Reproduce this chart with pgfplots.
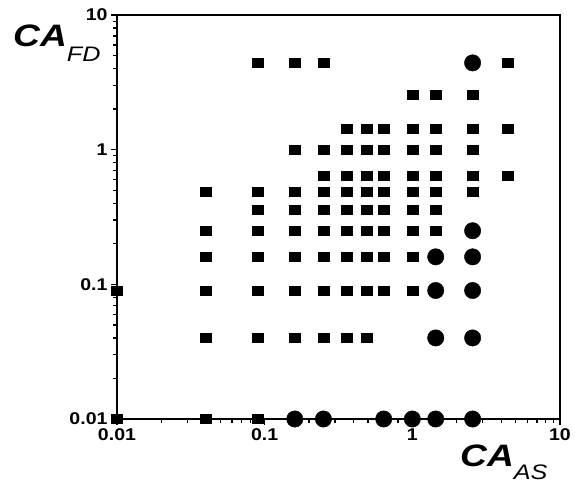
\documentclass[border=0pt]{standalone}
\usepackage{pgfplots}
\pgfplotsset{compat=1.18}
\usepackage{fontspec}
\setmainfont{Liberation Sans}

\newcommand{\tl}[1]{\scalebox{1.15}[1]{\bfseries #1}}

\begin{document}
\begin{tikzpicture}
\begin{axis}[
    name=ax,
    scale only axis,
    width=443pt, height=404pt,
    xmode=log, ymode=log,
    xmin=0.01, xmax=10, ymin=0.01, ymax=10,
    axis line style={line width=1.6pt},
    tick align=outside,
    xtick pos=bottom, ytick pos=left,
    major tick style={line width=1.6pt, black},
    minor tick style={line width=1.3pt, black},
    major tick length=6pt,
    minor tick length=4pt,
    xtick={0.01,0.1,1,10},
    ytick={0.01,0.1,1,10},
    minor xtick={0.02,0.03,0.04,0.05,0.06,0.07,0.08,0.09,0.2,0.3,0.4,0.5,0.6,0.7,0.8,0.9,2,3,4,5,6,7,8,9},
    minor ytick={0.02,0.03,0.04,0.05,0.06,0.07,0.08,0.09,0.2,0.3,0.4,0.5,0.6,0.7,0.8,0.9,2,3,4,5,6,7,8,9},
    xticklabels={\tl{0.01},\tl{0.1},\tl{1},\tl{10}},
    yticklabels={\tl{0.01},\tl{0.1},\tl{1},\tl{10}},
    ticklabel style={font=\fontsize{17}{17}\selectfont},
    clip=false,
]
% square markers
\addplot[only marks, mark=square*, mark size=4.4pt, mark options={xscale=1.25, fill=black, draw=black}] coordinates {
  (0.09,4.41) (0.16,4.41) (0.25,4.41) (4.41,4.41)
  (1,2.56) (1.44,2.56) (2.56,2.56)
  (0.36,1.44) (0.49,1.44) (0.64,1.44) (1,1.44) (1.44,1.44) (2.56,1.44) (4.41,1.44)
  (0.16,1) (0.25,1) (0.36,1) (0.49,1) (0.64,1) (1,1) (1.44,1) (2.56,1)
  (0.25,0.64) (0.36,0.64) (0.49,0.64) (0.64,0.64) (1,0.64) (1.44,0.64) (2.56,0.64) (4.41,0.64)
  (0.04,0.49) (0.09,0.49) (0.16,0.49) (0.25,0.49) (0.36,0.49) (0.49,0.49) (0.64,0.49) (1,0.49) (1.44,0.49) (2.56,0.49)
  (0.09,0.36) (0.16,0.36) (0.25,0.36) (0.36,0.36) (0.49,0.36) (0.64,0.36) (1,0.36) (1.44,0.36)
  (0.04,0.25) (0.09,0.25) (0.16,0.25) (0.25,0.25) (0.36,0.25) (0.49,0.25) (0.64,0.25) (1,0.25) (1.44,0.25)
  (0.04,0.16) (0.09,0.16) (0.16,0.16) (0.25,0.16) (0.36,0.16) (0.49,0.16) (0.64,0.16) (1,0.16)
  (0.01,0.09) (0.04,0.09) (0.09,0.09) (0.16,0.09) (0.25,0.09) (0.36,0.09) (0.49,0.09) (0.64,0.09) (1,0.09)
  (0.04,0.04) (0.09,0.04) (0.16,0.04) (0.25,0.04) (0.36,0.04) (0.49,0.04)
  (0.01,0.01) (0.04,0.01) (0.09,0.01)
};
% circle markers
\addplot[only marks, mark=*, mark size=8.2pt, mark options={fill=black, draw=black}] coordinates {
  (2.56,4.41)
  (2.56,0.25)
  (1.44,0.16) (2.56,0.16)
  (1.44,0.09) (2.56,0.09)
  (1.44,0.04) (2.56,0.04)
  (0.16,0.01) (0.25,0.01) (0.64,0.01) (1,0.01) (1.44,0.01) (2.56,0.01)
};
\end{axis}
\node[anchor=base west, inner sep=0] at ([shift={(-104pt,-32pt)}]ax.north west)
  {\scalebox{1.2}[1]{\fontsize{31}{31}\selectfont\bfseries\itshape CA}\raisebox{-15pt}{\scalebox{1.2}[1]{\fontsize{21}{21}\selectfont\itshape FD}}};
\node[anchor=base west, inner sep=0] at ([shift={(-100pt,-47pt)}]ax.south east)
  {\scalebox{1.2}[1]{\fontsize{31}{31}\selectfont\bfseries\itshape CA}\raisebox{-13pt}{\scalebox{1.2}[1]{\fontsize{21}{21}\selectfont\itshape AS}}};
\path[use as bounding box] ([shift={(-117pt,-65pt)}]ax.south west) rectangle ([shift={(15pt,15pt)}]ax.north east);
\end{tikzpicture}
\end{document}
